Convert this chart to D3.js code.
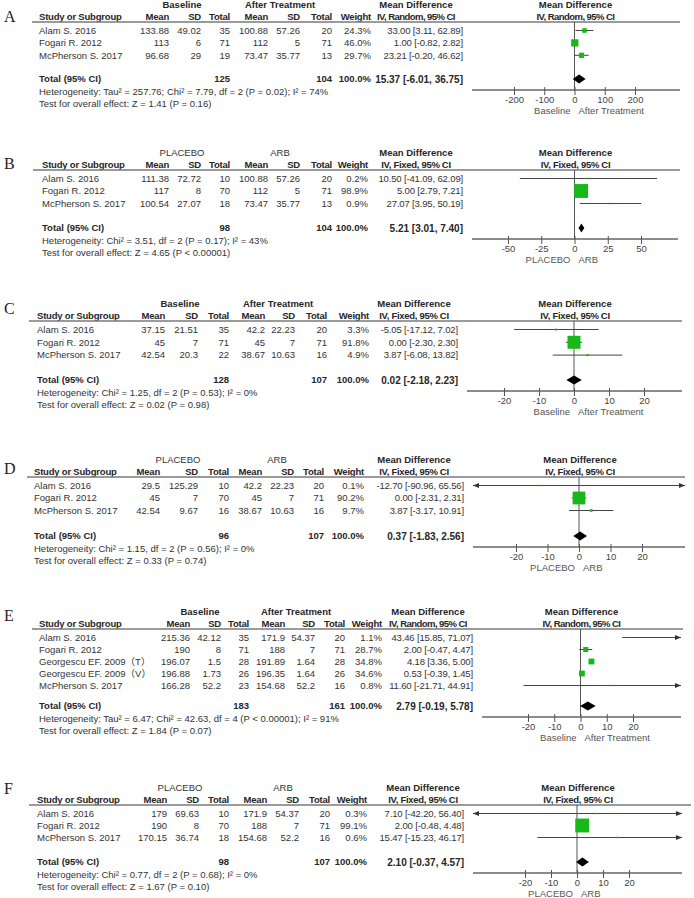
<!DOCTYPE html>
<html><head><meta charset="utf-8">
<script src="https://cdn.jsdelivr.net/npm/d3@7"></script>
<style>
body{margin:0;background:#fff}
svg{display:block}
text{font-family:"Liberation Sans",Arial,"Noto Sans CJK SC",sans-serif;font-size:9.5px;fill:#333}
text.b{font-weight:bold;fill:#262626}
text.hdr{letter-spacing:-0.2px}
text.methR{letter-spacing:-0.55px}
text.methF{letter-spacing:-0.3px}
text.num{letter-spacing:-0.15px}
text.tot{font-size:10px}
text.letter{font-family:"Liberation Serif","Times New Roman",serif;font-size:16px;fill:#222}
text.side{fill:#555}
.tick text{fill:#444;font-size:9.5px}
</style>
</head><body><svg id="c" width="694" height="898"></svg>
<script>
// ---------- DATA ----------
const panelIds = ["A","B","C","D","E","F"];
const groupNames = [["Baseline","After Treatment"],["PLACEBO","ARB"],["Baseline","After Treatment"],["PLACEBO","ARB"],["Baseline","After Treatment"],["PLACEBO","ARB"]];
const methods = ["IV, Random, 95% CI","IV, Fixed, 95% CI","IV, Fixed, 95% CI","IV, Fixed, 95% CI","IV, Random, 95% CI","IV, Fixed, 95% CI"];
// row: [study, mean1, sd1, n1, mean2, sd2, n2, weight, md, lo, hi]
const rowsA = [
  ["Alam S. 2016",133.88,49.02,35,100.88,57.26,20,24.3,33.00,3.11,62.89],
  ["Fogari R. 2012",113,6,71,112,5,71,46.0,1.00,-0.82,2.82],
  ["McPherson S. 2017",96.68,29,19,73.47,35.77,13,29.7,23.21,-0.20,46.62]];
const rowsB = [
  ["Alam S. 2016",111.38,72.72,10,100.88,57.26,20,0.2,10.50,-41.09,62.09],
  ["Fogari R. 2012",117,8,70,112,5,71,98.9,5.00,2.79,7.21],
  ["McPherson S. 2017",100.54,27.07,18,73.47,35.77,13,0.9,27.07,3.95,50.19]];
const rowsC = [
  ["Alam S. 2016",37.15,21.51,35,42.2,22.23,20,3.3,-5.05,-17.12,7.02],
  ["Fogari R. 2012",45,7,71,45,7,71,91.8,0.00,-2.30,2.30],
  ["McPherson S. 2017",42.54,20.3,22,38.67,10.63,16,4.9,3.87,-6.08,13.82]];
const rowsD = [
  ["Alam S. 2016",29.5,125.29,10,42.2,22.23,20,0.1,-12.70,-90.96,65.56],
  ["Fogari R. 2012",45,7,70,45,7,71,90.2,0.00,-2.31,2.31],
  ["McPherson S. 2017",42.54,9.67,16,38.67,10.63,16,9.7,3.87,-3.17,10.91]];
const rowsE = [
  ["Alam S. 2016",215.36,42.12,35,171.9,54.37,20,1.1,43.46,15.85,71.07],
  ["Fogari R. 2012",190,8,71,188,7,71,28.7,2.00,-0.47,4.47],
  ["Georgescu EF. 2009（T）",196.07,1.5,28,191.89,1.64,28,34.8,4.18,3.36,5.00],
  ["Georgescu EF. 2009（V）",196.88,1.73,26,196.35,1.64,26,34.6,0.53,-0.39,1.45],
  ["McPherson S. 2017",166.28,52.2,23,154.68,52.2,16,0.8,11.60,-21.71,44.91]];
const rowsF = [
  ["Alam S. 2016",179,69.63,10,171.9,54.37,20,0.3,7.10,-42.20,56.40],
  ["Fogari R. 2012",190,8,70,188,7,71,99.1,2.00,-0.48,4.48],
  ["McPherson S. 2017",170.15,36.74,18,154.68,52.2,16,0.6,15.47,-15.23,46.17]];
// total: [n1, n2, md, lo, hi]
const totals = [[125,104,15.37,-6.01,36.75],[98,104,5.21,3.01,7.40],[128,107,0.02,-2.18,2.23],[96,107,0.37,-1.83,2.56],[183,161,2.79,-0.19,5.78],[98,107,2.10,-0.37,4.57]];
const hetTexts = [
  "Heterogeneity: Tau² = 257.76; Chi² = 7.79, df = 2 (P = 0.02); I² = 74%",
  "Heterogeneity: Chi² = 3.51, df = 2 (P = 0.17); I² = 43%",
  "Heterogeneity: Chi² = 1.25, df = 2 (P = 0.53); I² = 0%",
  "Heterogeneity: Chi² = 1.15, df = 2 (P = 0.56); I² = 0%",
  "Heterogeneity: Tau² = 6.47; Chi² = 42.63, df = 4 (P < 0.00001); I² = 91%",
  "Heterogeneity: Chi² = 0.77, df = 2 (P = 0.68); I² = 0%"];
const testTexts = [
  "Test for overall effect: Z = 1.41 (P = 0.16)",
  "Test for overall effect: Z = 4.65 (P < 0.00001)",
  "Test for overall effect: Z = 0.02 (P = 0.98)",
  "Test for overall effect: Z = 0.33 (P = 0.74)",
  "Test for overall effect: Z = 1.84 (P = 0.07)",
  "Test for overall effect: Z = 1.67 (P = 0.10)"];
const tickSets = [[-200,-100,0,100,200],[-50,-25,0,25,50],[-20,-10,0,10,20],[-20,-10,0,10,20],[-20,-10,0,10,20],[-20,-10,0,10,20]];
const columnHeaders = ["Study or Subgroup","Mean","SD","Total","Mean","SD","Total","Weight"];

// ---------- LAYOUT ----------
const layouts = [
 {lineY:22, totalY:79, letterY:16, gap:12.4, cols:[39,169,201,230,268,300,332,371,463], mdHdr:416, grp:[182,280], lineX:[32,680], tickRange:[514,635], axisX:[472,680]},
 {lineY:170,totalY:228,letterY:163,gap:12.5, cols:[42,169,201,230,268,300,332,368,463], mdHdr:416, grp:[182,280], lineX:[33,680], tickRange:[508,641], axisX:[472,678]},
 {lineY:321,totalY:380,letterY:308,gap:12.8, cols:[37,165,198,229,265,295,327,369,458], mdHdr:414, grp:[180,278], lineX:[29,682], tickRange:[504,644], axisX:[467,682]},
 {lineY:477,totalY:536,letterY:468,gap:12.5, cols:[34,160,198,229,262,294,324,364,464], mdHdr:414, grp:[178,277], lineX:[27,685], tickRange:[516,642], axisX:[473,685]},
 {lineY:629,totalY:706,letterY:615,gap:12,   cols:[39,190,221,249,285,315,345,382,473], mdHdr:428, grp:[200,296], lineX:[32,683], tickRange:[528,633], axisX:[482,681]},
 {lineY:805,totalY:862,letterY:788,gap:12,   cols:[37,167,199,229,267,299,330,367,464], mdHdr:423, grp:[180,283], lineX:[29,691], tickRange:[525,629], axisX:[473,682]}
];
const allRows = [rowsA,rowsB,rowsC,rowsD,rowsE,rowsF];

const svg = d3.select("#c");
svg.append("rect").attr("width",694).attr("height",898).attr("fill","#fff");
const sizeScale = d3.scaleLinear().domain([0,100]).range([1.5,14]);
const ciStr = (m,l,h) => `${m.toFixed(2)} [${l.toFixed(2)}, ${h.toFixed(2)}]`;
const green = "#17b817";

panelIds.forEach((id,k)=>{
  const L = layouts[k], rows = allRows[k], tot = totals[k], ticks = tickSets[k];
  const g = svg.append("g");
  const x = d3.scaleLinear().domain(d3.extent(ticks)).range(L.tickRange);
  const hdrY = L.lineY - 5.5, grpY = L.lineY - 17.5;
  const rowY = i => L.lineY + 8.5 + i*L.gap;
  const axisY = L.totalY + 11;
  const txt = (xx,yy,s,anchor,cls) => g.append("text").attr("x",xx).attr("y",yy).attr("dy","0.35em")
      .attr("text-anchor",anchor||"start").attr("class",cls||null).text(s);
  const methCls = "b " + (methods[k].includes("Random") ? "methR" : "methF");

  txt(4, L.letterY, id, "start", "letter");
  // group headers
  txt(L.grp[0], grpY, groupNames[k][0], "middle", k%2===0 ? "b" : null);
  txt(L.grp[1], grpY, groupNames[k][1], "middle", k%2===0 ? "b" : null);
  columnHeaders.forEach((h,j)=> txt(L.cols[j], hdrY, h, j===0?"start":"end", "b hdr"));
  txt(L.mdHdr, grpY, "Mean Difference", "middle", "b");
  txt(L.mdHdr, hdrY, methods[k], "middle", methCls);
  txt(x(0)+1, grpY, "Mean Difference", "middle", "b");
  txt(x(0)+1, hdrY, methods[k], "middle", methCls);

  // header rule
  g.append("line").attr("x1",L.lineX[0]).attr("x2",L.lineX[1]).attr("y1",L.lineY).attr("y2",L.lineY)
    .attr("stroke","#7a7a7a").attr("stroke-width",1.5);

  // zero line
  g.append("line").attr("x1",x(0)).attr("x2",x(0)).attr("y1",L.lineY).attr("y2",axisY)
    .attr("stroke","#555").attr("stroke-width",1);

  const xmin = x.invert(L.axisX[0]), xmax = x.invert(L.axisX[1]);

  rows.forEach((r,i)=>{
    const y = rowY(i);
    txt(L.cols[0], y, r[0], "start");
    for(let j=1;j<=6;j++) txt(L.cols[j], y, String(r[j]), "end");
    txt(L.cols[7], y, r[7].toFixed(1)+"%", "end");
    txt(L.cols[8], y, ciStr(r[8],r[9],r[10]), "end", "num");
    const lo = Math.max(r[9], xmin), hi = Math.min(r[10], xmax);
    g.append("line").attr("x1",x(lo)).attr("x2",x(hi)).attr("y1",y).attr("y2",y)
      .attr("stroke","#444").attr("stroke-width",1);
    if (r[9] < xmin) {
      const ax = x(xmin);
      g.append("path").attr("d",`M${ax},${y}L${ax+6},${y-2.5}L${ax+6},${y+2.5}Z`).attr("fill","#333");
    }
    if (r[10] > xmax) {
      const ax = x(xmax);
      g.append("path").attr("d",`M${ax},${y}L${ax-6},${y-2.5}L${ax-6},${y+2.5}Z`).attr("fill","#333");
    }
    const s = sizeScale(r[7]);
    g.append("rect").attr("x",x(r[8])-s/2).attr("y",y-s/2).attr("width",s).attr("height",s).attr("fill",green);
  });

  // total row
  txt(L.cols[0], L.totalY, "Total (95% CI)", "start", "b");
  txt(L.cols[3], L.totalY, String(tot[0]), "end", "b");
  txt(L.cols[6], L.totalY, String(tot[1]), "end", "b");
  txt(L.cols[7], L.totalY, "100.0%", "end", "b");
  txt(L.cols[8], L.totalY, ciStr(tot[2],tot[3],tot[4]), "end", "b tot");
  const ty = L.totalY, h = 4.5;
  g.append("path").attr("d",`M${x(tot[3])},${ty}L${x(tot[2])},${ty-h}L${x(tot[4])},${ty}L${x(tot[2])},${ty+h}Z`).attr("fill","#000");

  txt(L.cols[0], L.totalY+13, hetTexts[k], "start");
  txt(L.cols[0], L.totalY+25, testTexts[k], "start");

  // axis
  g.append("line").attr("x1",L.axisX[0]).attr("x2",L.axisX[1]).attr("y1",axisY).attr("y2",axisY)
    .attr("stroke","#666").attr("stroke-width",1.5);
  const ax = g.append("g").attr("transform",`translate(0,${axisY})`)
    .call(d3.axisBottom(x).tickValues(ticks).tickSize(5).tickPadding(1.5).tickFormat(d=>String(d)));
  ax.select(".domain").remove();
  ax.selectAll(".tick line").attr("y1",-3).attr("stroke","#555");
  ax.attr("font-family",null).attr("font-size",null);

  txt(x(0)-4, axisY+20.5, groupNames[k][0], "end", "side");
  txt(x(0)+4, axisY+20.5, groupNames[k][1], "start", "side");
});
</script>
</body></html>
